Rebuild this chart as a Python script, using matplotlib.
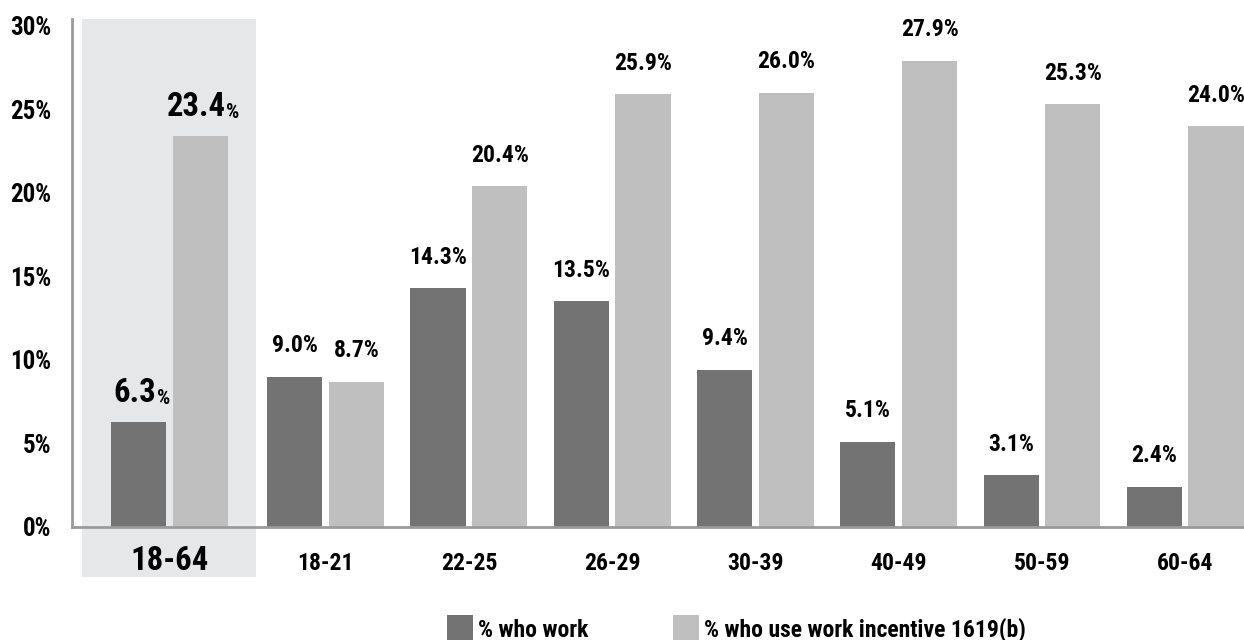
import matplotlib
matplotlib.use("Agg")
import matplotlib.pyplot as plt
import matplotlib.transforms as mtransforms
from matplotlib import font_manager as fm
from matplotlib.patches import Rectangle

# age groups; the first one is the overall 18-64 total
groups = ["18-64", "18-21", "22-25", "26-29", "30-39", "40-49", "50-59", "60-64"]
pct_work = [6.3, 9.0, 14.3, 13.5, 9.4, 5.1, 3.1, 2.4]
pct_1619b = [23.4, 8.7, 20.4, 25.9, 26.0, 27.9, 25.3, 24.0]
yticks = [0, 5, 10, 15, 20, 25, 30]
legend_labels = ["% who work", "% who use work incentive 1619(b)"]

DARK = "#737373"
LIGHT = "#bfbfbf"
SHADE = "#e6e7e9"


def pick_narrow_font():
    """Find a bold narrow/condensed face if one is installed."""
    prefs = ["Liberation Sans Narrow", "Roboto Condensed", "Open Sans Condensed",
             "DejaVu Sans", "Noto Sans", "Open Sans", "Roboto"]
    best = None
    for f in fm.fontManager.ttflist:
        narrow = "narrow" in f.name.lower() or "condensed" in f.name.lower() \
            or "condensed" in str(f.stretch)
        if not narrow or f.name not in prefs:
            continue
        w = f.weight if isinstance(f.weight, int) else (700 if "bold" in str(f.weight) else 400)
        key = (prefs.index(f.name), abs(w - 700))
        if best is None or key < best[0]:
            best = (key, f)
    return best[1] if best else None


nf = pick_narrow_font()
if nf is not None:
    plt.rcParams['font.family'] = [nf.name, 'DejaVu Sans']
    plt.rcParams['font.stretch'] = nf.stretch
    SCALE = 1.0
else:
    plt.rcParams['font.family'] = ['DejaVu Sans']
    SCALE = 0.8
plt.rcParams['font.weight'] = 'bold'

W, H = 1244, 640
fig = plt.figure(figsize=(W / 100, H / 100), dpi=100)
ax = fig.add_axes([72 / W, 1 - 527 / H, 1 - 72 / W, (527 - 19) / H])

# total group sits a bit further left than the regular spacing
xpos = [-1.09] + list(range(len(groups) - 1))
off, bw = 0.215, 0.385

# shaded background behind the total group, running down under its label
trans = mtransforms.blended_transform_factory(ax.transData, ax.transAxes)
ax.add_patch(Rectangle((xpos[0] - 0.607, -0.098), 1.214, 1.098, transform=trans,
                       facecolor=SHADE, edgecolor="none", clip_on=False, zorder=0))

b1 = ax.bar([x - off for x in xpos], pct_work, bw, color=DARK, zorder=2)
b2 = ax.bar([x + off for x in xpos], pct_1619b, bw, color=LIGHT, zorder=2)

fs = 17 * SCALE
big = 23.5 * SCALE
for bars, vals in ((b1, pct_work), (b2, pct_1619b)):
    for i, (r, v) in enumerate(zip(bars, vals)):
        cx = r.get_x() + r.get_width() / 2
        if i == 0:
            # the totals get a larger number with a small % sign
            t = ax.annotate(f"{v:.1f}", (cx, v), xytext=(-3, 9), textcoords="offset points",
                            ha="center", va="bottom", fontsize=big, fontweight="bold")
            ax.annotate("%", xy=(1, 0), xycoords=t, xytext=(0.5, 1), textcoords="offset points",
                        ha="left", va="bottom", fontsize=15 * SCALE, fontweight="bold")
        else:
            ax.annotate(f"{v:.1f}%", (cx, v), xytext=(0, 14), textcoords="offset points",
                        ha="center", va="bottom", fontsize=fs, fontweight="bold")

ax.set_xlim(-1.77, 6.41)
ax.set_ylim(0, 30.4)
ax.set_yticks(yticks)
ax.set_yticklabels([f"{t}%" for t in yticks], fontsize=18 * SCALE, fontweight="bold")
ax.set_xticks(xpos)
ax.set_xticklabels(groups, fontsize=fs, fontweight="bold")
ax.tick_params(length=0)
ax.tick_params(axis="y", pad=15)
ax.tick_params(axis="x", pad=31)
for lbl in ax.get_xticklabels():
    lbl.set_va("baseline")
ax.get_xticklabels()[0].set_fontsize(big)

for s in ("top", "right"):
    ax.spines[s].set_visible(False)
for s in ("left", "bottom"):
    ax.spines[s].set_color("#9a9a9a")
    ax.spines[s].set_linewidth(2)
    ax.spines[s].set_zorder(3)

# legend drawn by hand along the bottom edge
for x0, col, lab in ((447, DARK, legend_labels[0]), (673, LIGHT, legend_labels[1])):
    fig.add_artist(Rectangle((x0 / W, 0), 26 / W, 25 / H, transform=fig.transFigure,
                             facecolor=col, edgecolor="none"))
    fig.text((x0 + 31) / W, 3 / H, lab, fontsize=fs, fontweight="bold", va="baseline")

fig.savefig("out.png", dpi=100)
